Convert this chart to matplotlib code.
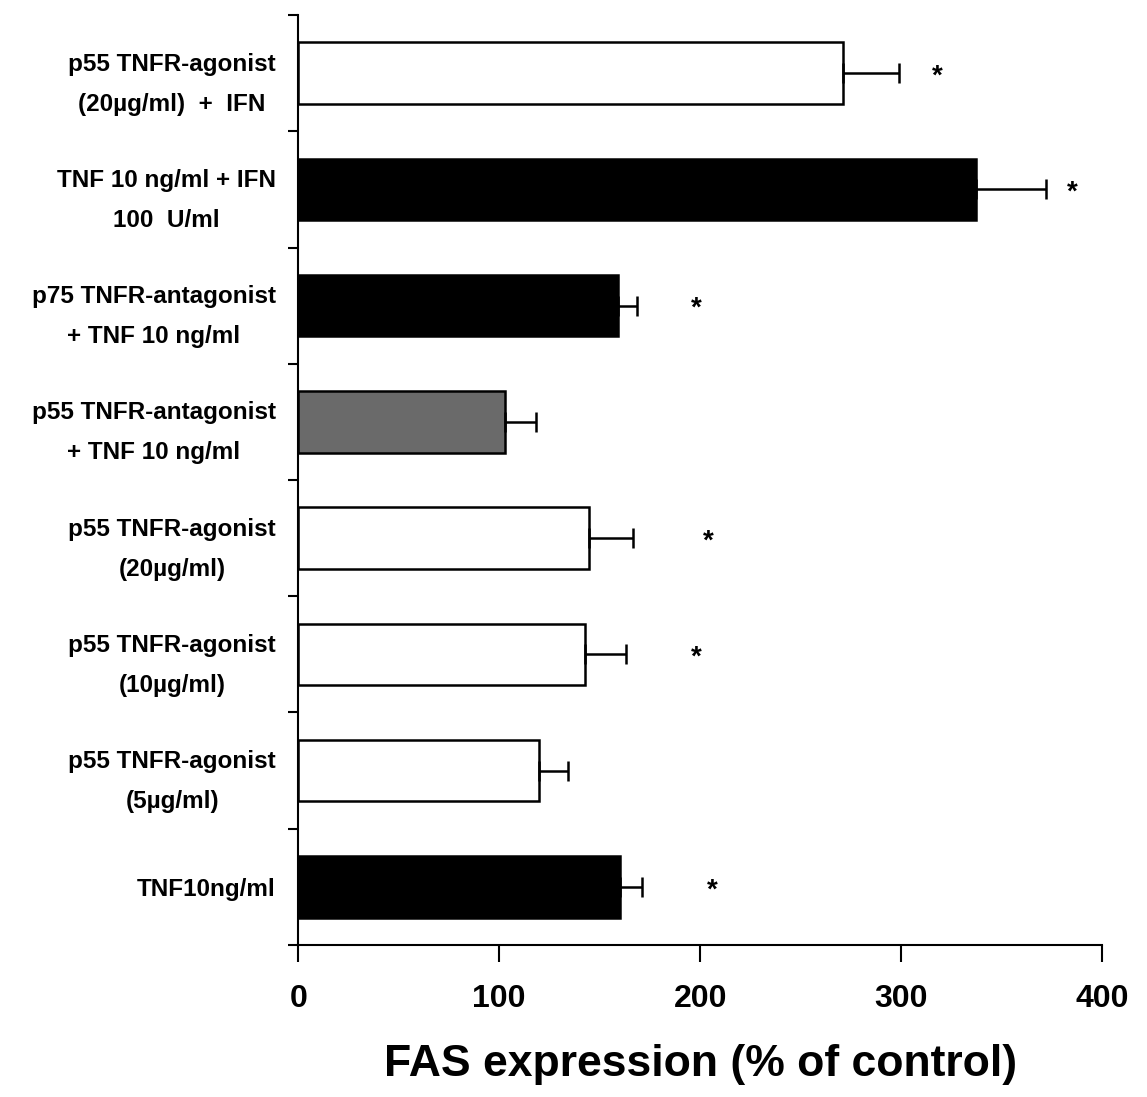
import matplotlib
matplotlib.use("Agg")
import matplotlib.pyplot as plt

labels = [
    "p55 TNFR-agonist\n(20µg/ml)  +  IFN",
    "TNF 10 ng/ml + IFN\n100  U/ml",
    "p75 TNFR-antagonist\n+ TNF 10 ng/ml",
    "p55 TNFR-antagonist\n+ TNF 10 ng/ml",
    "p55 TNFR-agonist\n(20µg/ml)",
    "p55 TNFR-agonist\n(10µg/ml)",
    "p55 TNFR-agonist\n(5µg/ml)",
    "TNF10ng/ml",
]
values = [271, 337, 159, 103, 144.5, 142.5, 120, 160]
errors = [28, 35, 9.5, 15.5, 22, 20.5, 14, 11]
colors = ["white", "black", "black", "#6a6a6a", "white", "white", "white", "black"]
star_x = [318, 385, 198, None, 204, 198, None, 206]
xticks = [0, 100, 200, 300, 400]
xlabel = "FAS expression (% of control)"

plt.rcParams['font.family'] = ['Liberation Sans', 'DejaVu Sans']

fig = plt.figure(figsize=(11.47, 10.97), dpi=100)
ax = fig.add_axes([0.26, 0.1386, 0.701, 0.8477])

ypos = list(range(len(values)))
ax.barh(ypos, values, height=0.53, color=colors, edgecolor="black", linewidth=1.8,
        xerr=[[0] * len(errors), errors], capsize=7,
        error_kw=dict(ecolor="black", elinewidth=1.8, capthick=1.8))

for y, sx in zip(ypos, star_x):
    if sx is not None:
        ax.text(sx, y + 0.03, "*", ha="center", va="center", fontsize=20, fontweight="bold")

ax.set_xlim(0, 400)
ax.set_ylim(len(values) - 0.5, -0.5)
ax.set_xticks(xticks)
ax.set_xticklabels([str(t) for t in xticks], fontsize=23, fontweight="bold")
ax.set_yticks([i - 0.5 for i in range(len(values) + 1)])
ax.set_yticklabels([])
ax.set_yticks(ypos, minor=True)
ax.set_yticklabels(labels, minor=True, fontsize=17.5, fontweight="bold",
                   multialignment="center", linespacing=1.95)
ax.tick_params(axis="y", which="minor", length=0, pad=16)
ax.tick_params(axis="y", which="major", length=7, width=1.5, direction="out")
ax.tick_params(axis="x", length=12, width=1.5, direction="out", pad=16)

for s in ["top", "right"]:
    ax.spines[s].set_visible(False)
for s in ["left", "bottom"]:
    ax.spines[s].set_linewidth(1.5)

ax.set_xlabel(xlabel, fontsize=32, fontweight="bold", labelpad=22)

fig.savefig("out.png", dpi=100, facecolor="white")
